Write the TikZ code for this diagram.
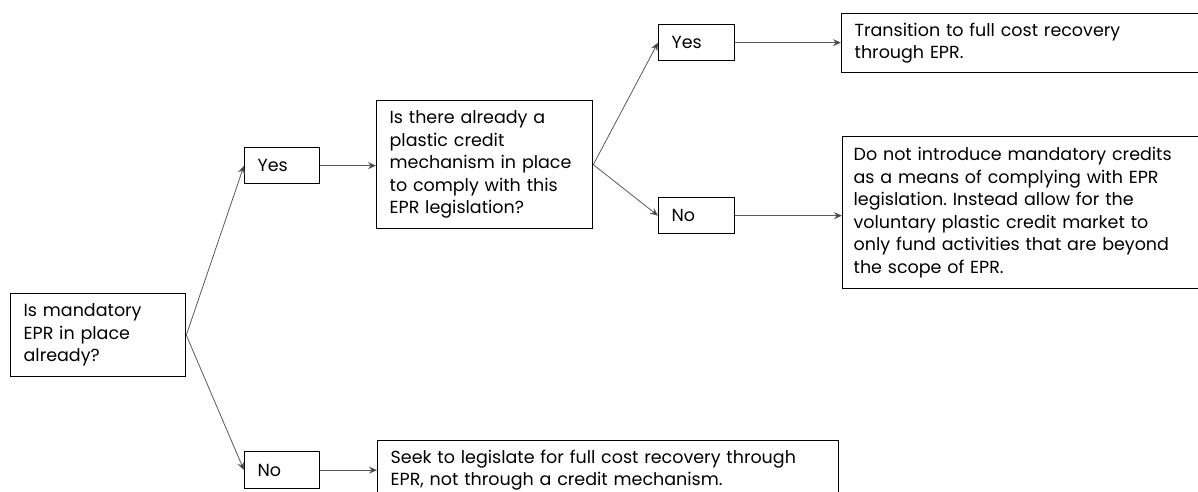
\documentclass[tikz,border=0pt]{standalone}
\usepackage{fontspec}
\setmainfont{Poppins}
\frenchspacing
\usetikzlibrary{arrows.meta}
\begin{document}
\begin{tikzpicture}[x=1pt,y=-1pt,
  box/.style={draw=black,line width=1.3pt,rectangle,anchor=north west,
    align=left,inner ysep=0pt,inner xsep=13pt,
    font=\fontsize{17.5}{22.5}\selectfont},
  link/.style={draw=black!65,line width=0.8pt,
    -{Stealth[length=8pt,width=7pt,fill=black!80]}}]
\useasboundingbox (0,0) rectangle (1198,492);
\clip (0,0) rectangle (1198,492);
% question boxes
\node[box,minimum width=175pt,minimum height=83pt,text width=149pt] (epr) at (10,293)
  {Is mandatory\\EPR in place\\already?};
\node[box,minimum width=214pt,minimum height=128pt,text width=190pt] (credit) at (376,100)
  {Is there already a\\plastic credit\\mechanism in place\\to comply with this\\EPR legislation?};
% answer boxes
\node[box,minimum width=75pt,minimum height=36pt,text width=49pt] (yesA) at (244,147) {Yes};
\node[box,minimum width=75pt,minimum height=37pt,text width=49pt] (noA) at (244,451) {No};
\node[box,minimum width=76pt,minimum height=36pt,text width=50pt] (yesB) at (658,24) {Yes};
\node[box,minimum width=76pt,minimum height=36pt,text width=50pt] (noB) at (658,197) {No};
% outcome boxes
\node[box,minimum width=362pt,minimum height=59pt,text width=336pt] (full) at (841,13)
  {Transition to full cost recovery\\through EPR.};
\node[box,inner xsep=11pt,minimum width=362pt,minimum height=152pt,text width=340pt] (vol) at (842,136)
  {Do not introduce mandatory credits\\as a means of complying with EPR\\legislation. Instead allow for the\\voluntary plastic credit market to\\only fund activities that are beyond\\the scope of EPR.};
\node[box,minimum width=461pt,minimum height=59pt,text width=435pt] (legis) at (377,440)
  {Seek to legislate for full cost recovery through\\EPR, not through a credit mechanism.};
% connectors
\draw[link] (epr.east) -- (yesA.west);
\draw[link] (epr.east) -- (noA.west);
\draw[link] (yesA.east) -- (yesA.east -| credit.west);
\draw[link] (noA.east) -- (noA.east -| legis.west);
\draw[link] (credit.east) -- (yesB.west);
\draw[link] (credit.east) -- (noB.west);
\draw[link] (yesB.east) -- (yesB.east -| full.west);
\draw[link] (noB.east) -- (noB.east -| vol.west);
\end{tikzpicture}
\end{document}
